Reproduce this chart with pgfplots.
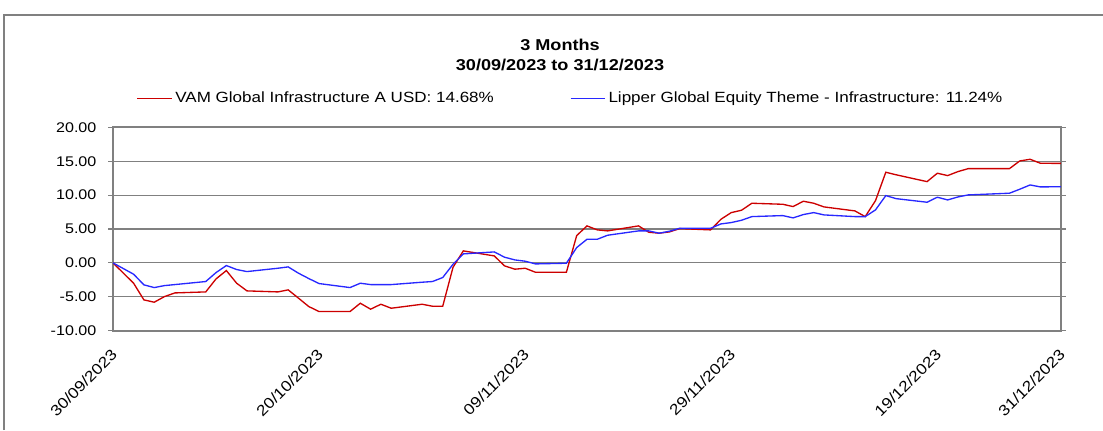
\documentclass[border=0pt]{standalone}
\usepackage{pgfplots}
\pgfplotsset{compat=1.18}
\usepackage{fontspec}
\setmainfont{Liberation Sans}[FakeStretch=1.15]
\definecolor{serred}{RGB}{204,0,0}
\definecolor{serblue}{RGB}{40,40,255}
\definecolor{gridgray}{RGB}{128,128,128}
\begin{document}
\fontsize{10.5pt}{12pt}\selectfont
\begin{tikzpicture}
\useasboundingbox (0,0) rectangle (827.25pt,322.5pt);
\draw[gridgray, line width=0.8pt] (3pt,0) -- (3pt,311.25pt) -- (827.25pt,311.25pt);
\node[font=\fontsize{11.8pt}{13pt}\bfseries\selectfont] at (420pt,289pt) {3 Months};
\node[font=\fontsize{11.8pt}{13pt}\bfseries\selectfont] at (420pt,273.5pt) {30/09/2023 to 31/12/2023};
\begin{axis}[
  at={(84.75pt,74.5pt)}, anchor=south west,
  width=711pt, height=152.5pt, scale only axis,
  xmin=0, xmax=92, ymin=-10, ymax=20,
  ytick={-10,-5,0,5,10,15,20},
  xtick={0,20,40,60,80,92},
  xticklabels={30/09/2023,20/10/2023,09/11/2023,29/11/2023,19/12/2023,31/12/2023},
  x tick label style={font=\fontsize{11.3pt}{13pt}\selectfont, rotate=45, anchor=north east, inner sep=1pt, yshift=-4pt, xshift=-7pt},
  y tick label style={/pgf/number format/fixed, /pgf/number format/fixed zerofill, /pgf/number format/precision=2, /pgf/number format/assume math mode=true, xshift=-5pt},
  tick align=outside,
  major tick length=3.75pt,
  xtick style={draw=none},
  ytick style={gridgray, line width=0.8pt},
  ymajorgrids,
  grid style={gridgray, line width=0.8pt},
  axis line style={gridgray, line width=1.5pt},
  legend style={at={(0.483,1.143)}, anchor=center, draw=none, fill=none,
    legend columns=2, inner sep=0pt, font=\fontsize{11.1pt}{13pt}\selectfont,
    /tikz/every even column/.append style={column sep=55pt}},
  legend image code/.code={\draw[#1] (0pt,0pt) -- (26pt,0pt);},
]
\addplot[serred, line width=1pt] coordinates {
(0,0) (2,-3.0) (3,-5.46) (4,-5.8) (5,-4.97) (6,-4.43) (9,-4.28) (10,-2.36)
(11,-1.13) (12,-3.0) (13,-4.13) (16,-4.28) (17,-3.98) (18,-5.2) (19,-6.44)
(20,-7.18) (23,-7.18) (24,-5.95) (25,-6.83) (26,-6.1) (27,-6.69) (30,-6.1)
(31,-6.39) (32,-6.39) (33,-0.64) (34,1.77) (37,1.03) (38,-0.44) (39,-0.93)
(40,-0.79) (41,-1.38) (44,-1.38) (45,4.03) (46,5.46) (47,4.87) (48,4.72)
(51,5.46) (52,4.52) (53,4.38) (54,4.57) (55,5.06) (58,4.87) (59,6.44)
(60,7.42) (61,7.77) (62,8.8) (65,8.65) (66,8.31) (67,9.1) (68,8.8) (69,8.26)
(72,7.67) (73,6.83) (74,9.19) (75,13.38) (76,13.0) (79,11.99) (80,13.23)
(81,12.88) (82,13.47) (83,13.91) (87,13.91) (88,15.04) (89,15.29) (90,14.70)
(92,14.68)
};
\addlegendentry{VAM Global Infrastructure A USD: 14.68\%}
\addplot[serblue, line width=1pt] coordinates {
(0,0) (2,-1.67) (3,-3.24) (4,-3.64) (5,-3.35) (6,-3.2) (9,-2.75) (10,-1.43)
(11,-0.39) (12,-0.98) (13,-1.28) (16,-0.79) (17,-0.59) (18,-1.52) (19,-2.31)
(20,-3.05) (23,-3.64) (24,-3.0) (25,-3.2) (26,-3.2) (27,-3.2) (30,-2.85)
(31,-2.75) (32,-2.16) (33,-0.2) (34,1.33) (37,1.62) (38,0.84) (39,0.44)
(40,0.25) (41,-0.15) (44,-0.05) (45,2.26) (46,3.49) (47,3.49) (48,4.08)
(51,4.72) (52,4.72) (53,4.38) (54,4.67) (55,5.11) (58,5.11) (59,5.75)
(60,5.95) (61,6.29) (62,6.83) (65,6.98) (66,6.64) (67,7.13) (68,7.42) (69,7.08)
(72,6.83) (73,6.83) (74,7.82) (75,9.93) (76,9.48) (79,8.95) (80,9.69)
(81,9.29) (82,9.73) (83,10.03) (87,10.28) (88,10.87) (89,11.5) (90,11.21)
(92,11.24)
};
\addlegendentry{Lipper Global Equity Theme - Infrastructure: 11.24\%}
\end{axis}
\end{tikzpicture}
\end{document}
